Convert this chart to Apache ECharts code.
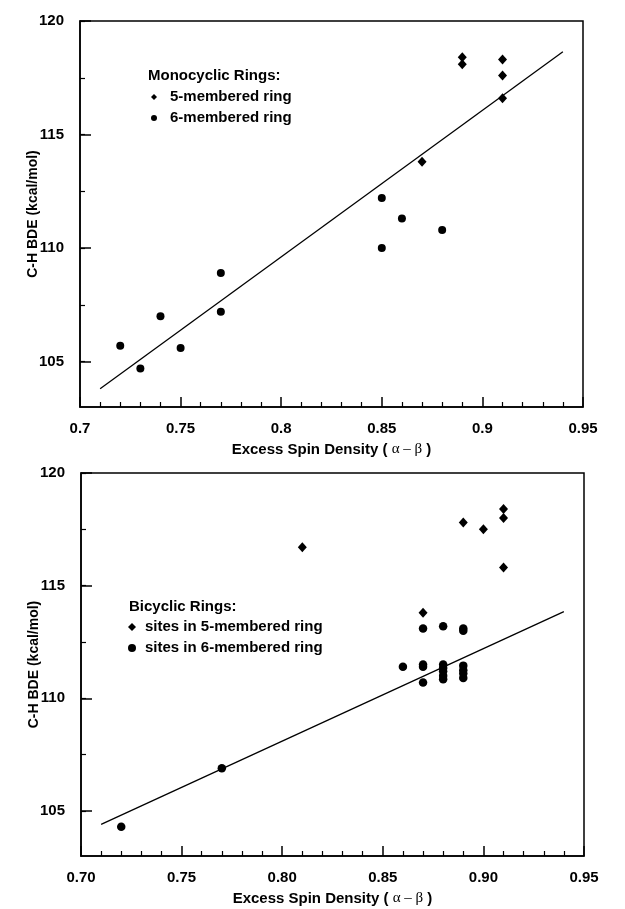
<!DOCTYPE html>
<html>
<head>
<meta charset="utf-8">
<script src="https://cdn.jsdelivr.net/npm/echarts@6/dist/echarts.min.js"></script>
<style>
	html, body { margin: 0; padding: 0; background: #fff; }
	#main { width: 625px; height: 909px; }
</style>
</head>
<body>
<div id="main"></div>
<script>
// top plot: monocyclic rings
var top5x = [0.89, 0.89, 0.91, 0.91, 0.91, 0.87];
var top5y = [118.4, 118.1, 118.3, 117.6, 116.6, 113.8];
var top6x = [0.72, 0.73, 0.74, 0.75, 0.77, 0.77, 0.85, 0.85, 0.86, 0.88];
var top6y = [105.7, 104.7, 107.0, 105.6, 108.9, 107.2, 112.2, 110.0, 111.3, 110.8];
var topFitX = [0.71, 0.94];
var topFitY = [103.8, 118.65];

// bottom plot: bicyclic rings
var bot5x = [0.81, 0.89, 0.90, 0.91, 0.91, 0.91, 0.87];
var bot5y = [116.7, 117.8, 117.5, 118.4, 118.0, 115.8, 113.8];
var bot6x = [0.72, 0.77, 0.86, 0.87, 0.87, 0.87, 0.87, 0.88, 0.88, 0.88, 0.88, 0.88, 0.88, 0.89, 0.89, 0.89, 0.89, 0.89, 0.89];
var bot6y = [104.3, 106.9, 111.4, 113.1, 111.5, 111.4, 110.7, 113.2, 111.5, 111.35, 111.2, 111.0, 110.85, 113.1, 113.0, 111.45, 111.25, 111.1, 110.9];
var botFitX = [0.71, 0.94];
var botFitY = [104.4, 113.85];

// ticks
var xLabelsTop = ["0.7", "0.75", "0.8", "0.85", "0.9", "0.95"];
var xLabelsBot = ["0.70", "0.75", "0.80", "0.85", "0.90", "0.95"];
var yLabelValues = [105, 110, 115, 120];
var yAllTicks = [105, 107.5, 110, 112.5, 115, 117.5, 120];

var FONT = "'Liberation Sans', Arial, sans-serif";

function pairs(xs, ys) {
	var out = [];
	for(var i = 0; i < xs.length; i++) {
		out.push([xs[i], ys[i]]);
	}
	return out;
}

function makeX(idx, labels) {
	return {
		type: "value",
		gridIndex: idx,
		min: 0.7,
		max: 0.95,
		interval: 0.05,
		nameLocation: "middle",
		nameGap: 35,
		name: "{b|Excess Spin Density ( }{g|\u03b1 \u2013 \u03b2}{b| )}",
		nameTextStyle: {
			rich: {
				b: { fontFamily: FONT, fontWeight: "bold", fontSize: 15, color: "#000" },
				g: { fontFamily: "'Liberation Serif', 'DejaVu Serif', serif", fontSize: 15, color: "#000" }
			}
		},
		axisLine: { show: true, lineStyle: { color: "#000", width: 1.5 } },
		axisTick: { show: true, inside: true, length: 10, lineStyle: { color: "#000", width: 1.5 } },
		minorTick: { show: true, splitNumber: 5, length: 5, lineStyle: { color: "#000", width: 1.2 } },
		splitLine: { show: false },
		axisLabel: {
			margin: 14,
			color: "#000",
			fontFamily: FONT,
			fontWeight: "bold",
			fontSize: 15,
			formatter: function(v, i) {
				return labels[i];
			}
		}
	};
}

function makeY(idx) {
	return {
		type: "value",
		gridIndex: idx,
		position: "left",
		min: 103,
		max: 120,
		name: "C-H BDE (kcal/mol)",
		nameLocation: "middle",
		nameGap: 40,
		nameMoveOverlap: false,
		nameTextStyle: { color: "#000", fontFamily: "'Liberation Sans Narrow', " + FONT, fontWeight: "bold", fontSize: 14 },
		axisLine: { show: true, lineStyle: { color: "#000", width: 1.5 } },
		axisTick: { show: true, inside: true, length: 5, customValues: yAllTicks, lineStyle: { color: "#000", width: 1.2 } },
		splitLine: { show: false },
		axisLabel: {
			margin: 16,
			color: "#000",
			fontFamily: FONT,
			fontWeight: "bold",
			fontSize: 15,
			customValues: yLabelValues
		}
	};
}

// second y axis only for the longer ticks at the labelled values
function makeYMajor(idx) {
	return {
		type: "value",
		gridIndex: idx,
		position: "left",
		min: 103,
		max: 120,
		axisLine: { show: false },
		axisTick: { show: true, inside: true, length: 11, customValues: yLabelValues, lineStyle: { color: "#000", width: 1.5 } },
		splitLine: { show: false },
		axisLabel: { show: false }
	};
}

function scatter(name, idx, data, symbol, size) {
	return {
		name: name,
		type: "scatter",
		xAxisIndex: idx,
		yAxisIndex: idx * 2,
		symbol: symbol,
		symbolSize: size,
		itemStyle: { color: "#000", opacity: 1 },
		data: data
	};
}

function fitLine(idx, data) {
	return {
		name: "fit" + idx,
		type: "line",
		xAxisIndex: idx,
		yAxisIndex: idx * 2,
		symbol: "none",
		lineStyle: { color: "#000", width: 1.3 },
		data: data
	};
}

var myChart = echarts.init(document.getElementById("main"));
var option = {
	backgroundColor: "#fff",
	animation: false,
	grid: [
		{ left: 80, top: 21, width: 503, height: 386, show: true, borderColor: "#000", borderWidth: 1.5 },
		{ left: 81, top: 473, width: 503, height: 383, show: true, borderColor: "#000", borderWidth: 1.5 }
	],
	title: [
		{ text: "Monocyclic Rings:", left: 148, top: 68, padding: 0, textStyle: { fontFamily: FONT, fontWeight: "bold", fontSize: 15, color: "#000" } },
		{ text: "Bicyclic Rings:", left: 129, top: 599, padding: 0, textStyle: { fontFamily: FONT, fontWeight: "bold", fontSize: 15, color: "#000" } }
	],
	legend: [
		{
			orient: "vertical",
			left: 151,
			top: 89,
			padding: 0,
			itemGap: 5,
			itemWidth: 6,
			itemHeight: 6,
			selectedMode: false,
			itemStyle: { opacity: 1 },
			textStyle: { fontFamily: FONT, fontWeight: "bold", fontSize: 15, color: "#000", lineHeight: 16, padding: [0, 0, 0, 8] },
			data: [{ name: "5-membered ring", icon: "diamond" }, { name: "6-membered ring", icon: "circle" }]
		},
		{
			orient: "vertical",
			left: 128,
			top: 619,
			padding: 0,
			itemGap: 5,
			itemWidth: 8,
			itemHeight: 8,
			selectedMode: false,
			itemStyle: { opacity: 1 },
			textStyle: { fontFamily: FONT, fontWeight: "bold", fontSize: 15, color: "#000", lineHeight: 16, padding: [0, 0, 0, 4] },
			data: [{ name: "sites in 5-membered ring", icon: "diamond" }, { name: "sites in 6-membered ring", icon: "circle" }]
		}
	],
	xAxis: [makeX(0, xLabelsTop), makeX(1, xLabelsBot)],
	yAxis: [makeY(0), makeYMajor(0), makeY(1), makeYMajor(1)],
	series: [
		fitLine(0, pairs(topFitX, topFitY)),
		scatter("5-membered ring", 0, pairs(top5x, top5y), "diamond", [9, 10]),
		scatter("6-membered ring", 0, pairs(top6x, top6y), "circle", 8),
		fitLine(1, pairs(botFitX, botFitY)),
		scatter("sites in 5-membered ring", 1, pairs(bot5x, bot5y), "diamond", [9, 10]),
		scatter("sites in 6-membered ring", 1, pairs(bot6x, bot6y), "circle", 8.5)
	]
};
myChart.setOption(option);
</script>
</body>
</html>
